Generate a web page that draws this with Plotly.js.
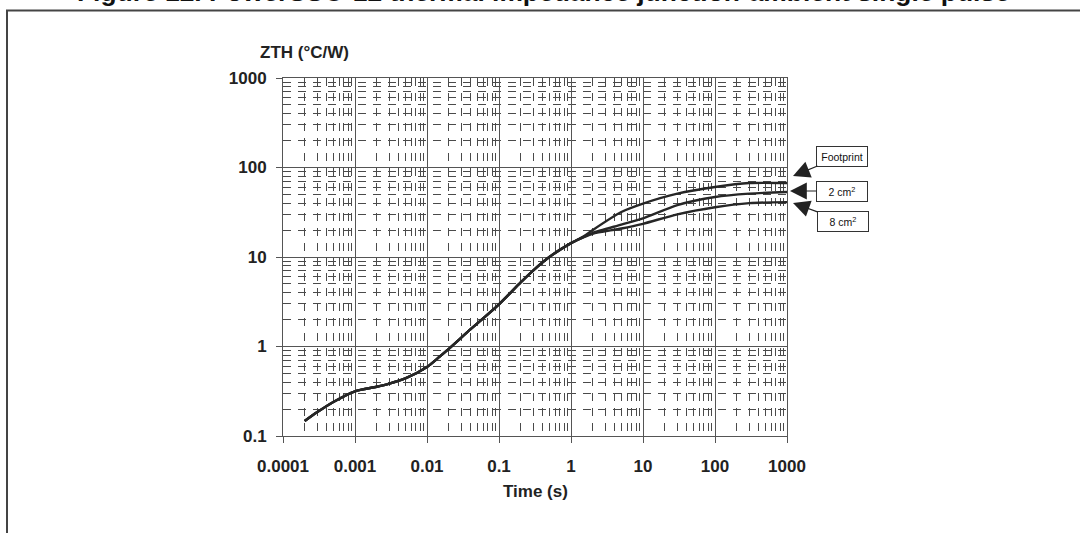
<!DOCTYPE html>
<html>
<head>
<meta charset="utf-8">
<script src="https://cdn.plot.ly/plotly-3.0.1.min.js"></script>
<style>html,body{margin:0;padding:0;background:#fff;}#chart{width:1080px;height:533px;}</style>
</head>
<body>
<div id="chart"></div>
<script>
// ---- data ----
const timeCommon = [0.0002, 0.0003, 0.0005, 0.001, 0.002, 0.003, 0.005, 0.01, 0.015, 0.021, 0.04, 0.1, 0.2, 0.3, 0.5, 1.0];
const zthCommon  = [0.147, 0.185, 0.24, 0.316, 0.355, 0.385, 0.44, 0.59, 0.77, 0.97, 1.55, 2.96, 5.2, 7.1, 10, 14.3];
const timeSplit  = [1.5, 2, 5, 10, 30, 100, 300, 1000];
const zthFootprint = [17, 20, 31.8, 39.5, 51, 60.5, 67, 67];
const zth2cm       = [16.7, 18.6, 23, 27, 38, 46.8, 51, 53.2];
const zth8cm       = [16.7, 18.2, 20.8, 23.5, 30, 36, 40, 41];
const xTickVals = [0.0001, 0.001, 0.01, 0.1, 1, 10, 100, 1000];
const xTickText = ["0.0001", "0.001", "0.01", "0.1", "1", "10", "100", "1000"];
const yTickVals = [0.1, 1, 10, 100, 1000];
const yTickText = ["0.1", "1", "10", "100", "1000"];
const seriesNames = ["Footprint", "2 cm<sup>2</sup>", "8 cm<sup>2</sup>"];

// ---- layout geometry (pixels) ----
const L = 283, R = 787, T = 78, B = 436;
const PX = p => (p - L) / (R - L);
const PY = p => (B - p) / (B - T);

const FONT = "Liberation Sans, Arial, sans-serif";
const lineCol = "#262626";

const series = [zthFootprint, zth2cm, zth8cm];
const traces = series.map((ys, i) => ({
  type: "scatter", mode: "lines",
  x: timeCommon.concat(timeSplit),
  y: zthCommon.concat(ys),
  name: seriesNames[i],
  line: {color: lineCol, width: 2.4, shape: "spline", smoothing: 0.7},
  hoverinfo: "skip"
}));

const axisCommon = {
  type: "log",
  showline: true, mirror: true, linecolor: "#555", linewidth: 1,
  showgrid: true, gridcolor: "#555", gridwidth: 1,
  zeroline: false,
  ticks: "outside", ticklen: 6, tickcolor: "#555", tickwidth: 1,
  tickfont: {family: FONT, size: 17, color: "#222", weight: "bold"},
  minor: {dtick: "D1", showgrid: true, gridcolor: "#4a4a4a", gridwidth: 1, griddash: "8px,7px", ticks: ""}
};

const boxStyle = {
  font: {family: FONT, size: 10.5, color: "#111"},
  bordercolor: "#333", borderwidth: 1, borderpad: 2, bgcolor: "#fff",
  showarrow: true, arrowhead: 2, arrowsize: 2.8, arrowwidth: 1.2, arrowcolor: "#222",
  xref: "paper", yref: "paper", width: 46, height: 15
};

const layout = {
  width: 1080, height: 533,
  margin: {l: L, r: 1080 - R, t: T, b: 533 - B, pad: 0},
  paper_bgcolor: "#fff", plot_bgcolor: "#fff",
  showlegend: false,
  xaxis: Object.assign({}, axisCommon, {range: [-4, 3], tickvals: xTickVals, ticktext: xTickText, ticklabelstandoff: 9}),
  yaxis: Object.assign({}, axisCommon, {range: [-1, 3], tickvals: yTickVals, ticktext: yTickText, ticklabelstandoff: 6}),
  shapes: [{
    type: "rect", xref: "paper", yref: "paper",
    x0: PX(7), x1: PX(1095), y0: PY(560), y1: PY(10.5),
    line: {color: "#444", width: 2}, layer: "below"
  }],
  annotations: [
    {text: "Figure 12. PowerSSO-12 thermal impedance junction-ambient single pulse",
     xref: "paper", yref: "paper", x: PX(543.5), y: PY(9), xanchor: "center", yanchor: "bottom",
     showarrow: false, font: {family: FONT, size: 26.4, color: "#111", weight: "bold"}},
    {text: "ZTH (°C/W)", xref: "paper", yref: "paper", x: PX(258), y: PY(52),
     xanchor: "left", yanchor: "middle", showarrow: false,
     font: {family: FONT, size: 17, color: "#222", weight: "bold"}},
    {text: "Time (s)", xref: "paper", yref: "paper", x: PX(535), y: PY(491),
     xanchor: "center", yanchor: "middle", showarrow: false,
     font: {family: FONT, size: 17, color: "#222", weight: "bold"}},
    Object.assign({}, boxStyle, {text: seriesNames[0], x: PX(793), y: PY(176), ax: 49, ay: -20}),
    Object.assign({}, boxStyle, {text: seriesNames[1], x: PX(790), y: PY(191), ax: 52, ay: 0}),
    Object.assign({}, boxStyle, {text: seriesNames[2], x: PX(793), y: PY(203), ax: 50, ay: 18})
  ]
};

Plotly.newPlot("chart", traces, layout, {displayModeBar: false, staticPlot: true});
</script>
</body>
</html>
